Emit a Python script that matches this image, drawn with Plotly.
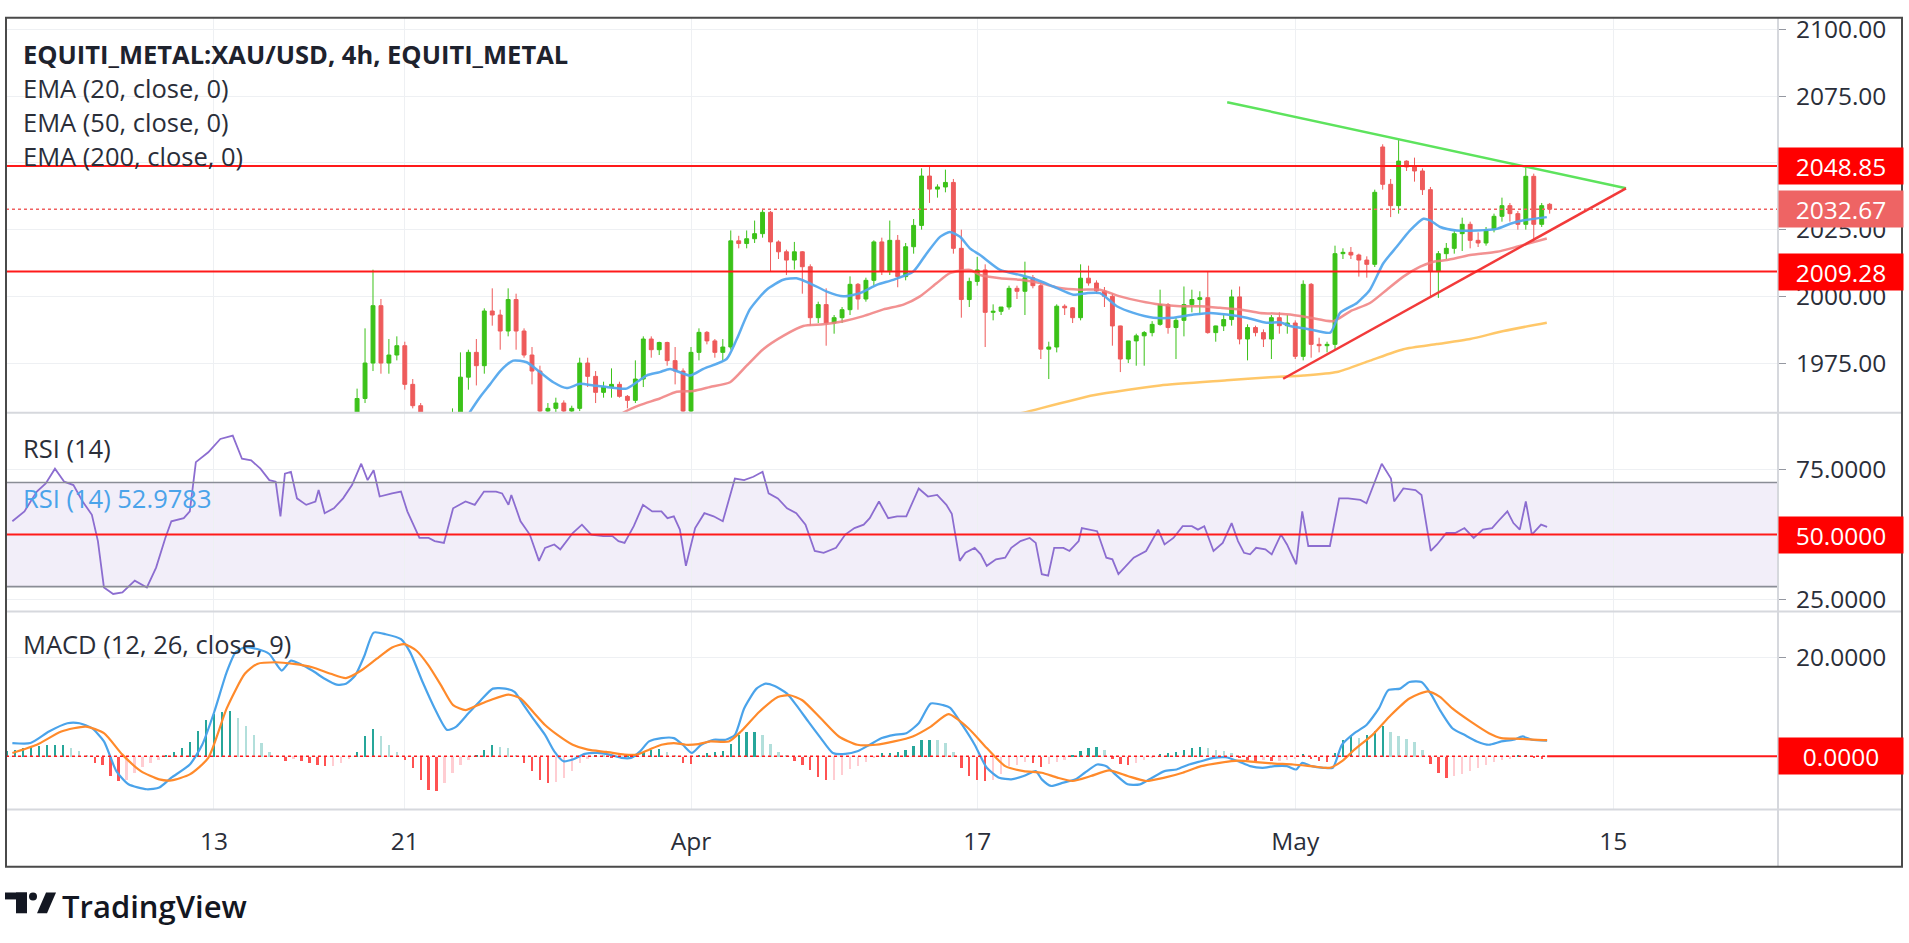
import plotly.graph_objects as go

# ======================= DATA =======================
# x axis = trading-day index (0 = Mar 13); 4h-ish candles sampled every 0.25 day
TICK_DAYS = [0, 6, 15, 24, 34, 44]
TICK_TEXT = ["13", "21", "Apr", "17", "May", "15"]

PRICE_TICKS = [1975, 2000, 2025, 2050, 2075, 2100]
RSI_TICKS = [25, 50, 75]
MACD_TICKS = [0, 20]

RESISTANCE = 2048.85
SUPPORT = 2009.28
LAST_PRICE = 2032.67
RSI_LAST = 52.9783
RSI_MID, RSI_UP, RSI_LO = 50, 70, 30
MACD_ZERO = 0.0

CANDLE_DAY0 = 4.0
CANDLE_STEP = 0.25

OPEN = [
    1948, 1950, 1953, 1961.7,
    1975, 1996.5, 1975, 1978,
    1981.5, 1967, 1959, 1953,
    1948, 1950, 1952, 1956,
    1969.7, 1979, 1974, 1994.5,
    1993, 1987, 1998.8, 1987,
    1978, 1972, 1957, 1958,
    1960, 1957, 1958, 1975,
    1970, 1964, 1966, 1967,
    1962.5, 1961, 1969, 1984,
    1980, 1982.7, 1975.9, 1972,
    1957, 1979, 1986.5, 1983.3,
    1979, 1981, 2020.8, 2019.8,
    2021.6, 2023.5, 2031.5, 2020.4,
    2016.7, 2013.6, 2016.7, 2011.1,
    1992, 1996.9, 1990, 1992,
    1995, 2004.5, 1999, 2006,
    2020.4, 2009.3, 2021, 2007.4,
    2018.6, 2026.6, 2045.1, 2040.2,
    2041, 2042.7, 2018, 1998.8,
    2005.6, 2009.9, 1994, 1994.4,
    1996, 2003, 2001.9, 2007,
    2004, 1980.2, 1981, 1996.3,
    1995.7, 1992, 2006.8, 2005,
    2002, 2000, 1988.9, 1976.5,
    1983.3, 1985.2, 1986.4, 1989.5,
    1996.9, 1988.3, 1991, 1996.9,
    1998.8, 1999.5, 1986.4, 1988.9,
    1991.3, 1999.8, 1984, 1988.3,
    1986.4, 1984, 1992, 1989,
    1990, 1977.5, 2004.5, 1982,
    1981.5, 1982, 2016, 2016.5,
    2015.5, 2013.6, 2012, 2056,
    2042, 2034, 2050.7, 2048.5,
    2047, 2040, 2009.3, 2016,
    2018, 2023.5, 2027, 2021,
    2020, 2025, 2030, 2034,
    2031, 2027, 2045, 2027,
    2034.5,
]
HIGH = [
    1952, 1955, 1965.4, 1988,
    2010, 1999, 1984, 1985,
    1983, 1969, 1960, 1955,
    1952, 1954, 1958, 1979,
    1980, 1984, 1995.5, 2003,
    1995, 2003, 2001, 1988,
    1981, 1974, 1960, 1962,
    1961, 1959, 1977, 1977,
    1972, 1968, 1973, 1968,
    1963, 1976, 1985, 1985,
    1983, 1983, 1981, 1973,
    1981, 1988, 1987, 1984,
    1984, 2024.7, 2022.7, 2024.7,
    2028.4, 2032.8, 2032, 2021,
    2017.5, 2020.4, 2017, 2012,
    1998, 2003, 1993, 1996,
    2007.5, 2005, 2007, 2021,
    2022, 2028.4, 2023, 2020,
    2029, 2048, 2048.9, 2042,
    2047.5, 2044, 2025, 2007,
    2014.8, 2012, 1997, 1996,
    2004, 2004, 2013, 2008,
    2005, 1983, 1997, 1997,
    1996, 2012, 2011.5, 2006,
    2003.5, 2001, 1989, 1983.3,
    1986, 1987, 1990.7, 2002.5,
    1997.5, 1992, 2003.7, 2002.5,
    2001.9, 2009.3, 1989, 1993,
    2002.5, 2003.7, 1989.5, 1989,
    1987.6, 1993, 1994, 1993,
    1991, 2006, 2005, 1984.5,
    1983, 2019, 2018, 2018.5,
    2016, 2015, 2040, 2057,
    2044, 2058.7, 2051, 2052,
    2048, 2041, 2017, 2020,
    2024.5, 2029.5, 2028, 2024,
    2026, 2031, 2037, 2035,
    2032, 2048.85, 2046, 2035,
    2035,
]
LOW = [
    1944, 1946, 1951, 1960,
    1972, 1971, 1971, 1976,
    1965, 1958, 1950, 1945,
    1944, 1946, 1948, 1955,
    1965, 1966.6, 1971, 1989,
    1980, 1985, 1980, 1977,
    1967, 1955, 1952, 1955,
    1955, 1952, 1957, 1966,
    1960, 1962, 1962, 1962,
    1958, 1960, 1966, 1977,
    1978, 1974, 1967, 1955,
    1954, 1976, 1982, 1977,
    1976, 1980, 2018, 2018,
    2020, 2022, 2009.3, 2014,
    2008, 2010, 2001, 1989,
    1990, 1981.5, 1986, 1990,
    1993, 1995, 1998, 2004,
    2008, 2008, 2003.4, 2006,
    2016, 2025, 2035, 2037,
    2039, 2016, 1992, 1996,
    2004, 1981, 1991, 1993,
    1995, 1999, 1993, 2003,
    1976.5, 1969, 1979, 1993,
    1990, 1991, 2004, 2001,
    1996, 1981.5, 1971.6, 1975,
    1974, 1974, 1985, 1989,
    1986, 1976.5, 1985, 1994,
    1993, 1986, 1983, 1987,
    1989, 1982, 1976, 1985,
    1981, 1976.5, 1986, 1986,
    1976.5, 1976, 1977, 1979,
    1979, 1980, 2014, 2014,
    2007.4, 2007, 2011, 2040,
    2029.7, 2031, 2047, 2043,
    2038, 2000, 1999.4, 2014,
    2016, 2017, 2018, 2018.5,
    2019, 2024, 2028, 2028,
    2025, 2025, 2020.4, 2026,
    2031,
]
CLOSE = [
    1950, 1953, 1961.7, 1975,
    1996.5, 1975, 1978, 1981.5,
    1967, 1959, 1953, 1948,
    1950, 1952, 1956, 1969.7,
    1979, 1974, 1994.5, 1993,
    1987, 1998.8, 1987, 1978,
    1972, 1957, 1958, 1960,
    1957, 1958, 1975, 1970,
    1964, 1966, 1967, 1962.5,
    1961, 1969, 1984, 1980,
    1982.7, 1975.9, 1972, 1957,
    1979, 1986.5, 1983.3, 1979,
    1981, 2020.8, 2019.8, 2021.6,
    2023.5, 2031.5, 2020.4, 2016.7,
    2013.6, 2016.7, 2011.1, 1992,
    1996.9, 1990, 1992, 1995,
    2004.5, 1999, 2006, 2020.4,
    2009.3, 2021, 2007.4, 2018.6,
    2026.6, 2045.1, 2040.2, 2041,
    2042.7, 2018, 1998.8, 2005.6,
    2009.9, 1994, 1994.4, 1996,
    2003, 2001.9, 2007, 2004,
    1980.2, 1981, 1996.3, 1995.7,
    1992, 2006.8, 2005, 2002,
    2000, 1988.9, 1976.5, 1983.3,
    1985.2, 1986.4, 1989.5, 1996.9,
    1988.3, 1991, 1996.9, 1998.8,
    1999.5, 1986.4, 1988.9, 1991.3,
    1999.8, 1984, 1988.3, 1986.4,
    1984, 1992, 1989, 1990,
    1977.5, 2004.5, 1982, 1981.5,
    1982, 2016, 2016.5, 2015.5,
    2013.6, 2012, 2039, 2042,
    2034, 2050.7, 2048.5, 2047,
    2040, 2009.3, 2016, 2018,
    2023.5, 2027, 2021, 2020,
    2025, 2030, 2034, 2031,
    2027, 2045, 2027, 2034,
    2032.67,
]

EMA20 = [(7.85, 1953.0), (8.05, 1956.7), (8.35, 1962.0), (8.68, 1967.0), (9.0, 1972.0), (9.41, 1975.9),
         (9.83, 1975.3), (10.25, 1971.6), (10.67, 1967.8), (11.09, 1965.6), (11.51, 1967.2), (11.93, 1966.6),
         (12.35, 1966.0), (12.97, 1965.4), (13.29, 1967.8), (13.6, 1970.3), (14.02, 1971.6), (14.34, 1972.8),
         (14.97, 1970.3), (15.39, 1972.8), (16.12, 1976.5), (16.44, 1984.0), (16.85, 1995.1), (17.38, 2002.5),
         (17.9, 2006.2), (18.32, 2006.8), (18.74, 2004.9), (19.27, 2001.8), (19.79, 2000.0), (20.31, 2001.2),
         (20.84, 2004.3), (21.36, 2006.2), (21.99, 2009.3), (22.41, 2016.1), (22.83, 2022.3), (23.14, 2024.1),
         (23.46, 2022.3), (23.77, 2018.0), (24.09, 2015.5), (24.72, 2009.9), (25.35, 2008.0), (25.87, 2006.2),
         (26.39, 2003.7), (27.02, 2000.6), (27.44, 2001.2), (27.86, 2001.2), (28.39, 1996.3), (28.91, 1993.8),
         (29.54, 1992.0), (30.17, 1992.0), (30.8, 1993.2), (31.32, 1993.8), (31.85, 1993.2), (32.47, 1992.0),
         (33.1, 1990.1), (33.52, 1990.3), (33.84, 1988.9), (34.47, 1987.6), (35.1, 1986.4), (35.41, 1993.8),
         (35.94, 1997.5), (36.35, 2002.5), (36.77, 2012.4), (37.19, 2018.6), (37.61, 2024.7), (38.03, 2029.1),
         (38.24, 2028.5), (38.56, 2026.0), (39.08, 2024.7), (39.71, 2024.7), (40.34, 2025.3), (40.76, 2027.2),
         (41.18, 2028.5), (41.91, 2029.7)]
EMA50 = [(12.7, 1955.0), (12.92, 1956.7), (13.39, 1959.2), (14.02, 1961.7), (14.55, 1964.2), (15.07, 1964.5),
         (15.6, 1966.0), (16.23, 1967.8), (16.75, 1974.0), (17.27, 1980.2), (17.9, 1985.2), (18.53, 1988.9),
         (19.16, 1989.5), (19.79, 1990.7), (20.42, 1992.6), (21.05, 1995.1), (21.68, 1996.9), (22.2, 2000.0),
         (22.72, 2004.9), (23.14, 2008.7), (23.77, 2009.9), (24.09, 2008.0), (24.72, 2006.8), (25.35, 2006.2),
         (25.98, 2005.0), (26.6, 2003.1), (27.23, 2002.5), (27.86, 2002.5), (28.49, 2000.0), (29.12, 1998.2),
         (29.75, 1996.9), (30.38, 1996.3), (31.01, 1996.3), (31.64, 1995.7), (32.26, 1995.1), (32.89, 1993.8),
         (33.52, 1993.5), (33.84, 1993.2), (34.47, 1992.0), (35.2, 1990.7), (35.73, 1994.4), (36.35, 1997.5),
         (36.88, 2002.5), (37.4, 2007.4), (37.93, 2011.1), (38.35, 2013.0), (38.77, 2013.6), (39.5, 2015.5),
         (40.34, 2016.7), (40.97, 2018.6), (41.91, 2021.7)]
EMA200 = [(25.3, 1956.0), (25.56, 1956.7), (27.65, 1962.9), (29.75, 1966.6), (31.85, 1968.5), (33.21, 1969.7),
          (34.26, 1970.3), (35.31, 1971.6), (36.35, 1975.9), (37.4, 1980.2), (38.45, 1982.1), (39.5, 1984.0),
          (40.55, 1987.0), (41.91, 1990.1)]

# hand-drawn trend lines (day, price)
TREND_UPPER = [(31.86, 2072.8), (44.4, 2040.5)]
TREND_LOWER = [(33.62, 1969.1), (44.4, 2040.5)]

RSI = [(-6.34, 55.1), (-5.96, 58.9), (-5.57, 66.5), (-5.29, 69.6), (-5.0, 75.3), (-4.71, 70.3), (-4.42, 69.0),
       (-4.13, 62.7), (-3.84, 57.6), (-3.65, 47.5), (-3.46, 29.7), (-3.17, 27.2), (-2.88, 27.8), (-2.49, 32.3),
       (-2.11, 29.7), (-1.82, 37.3), (-1.53, 48.7), (-1.34, 55.1), (-0.95, 56.3), (-0.76, 58.9), (-0.57, 77.8),
       (-0.18, 81.6), (0.20, 86.7), (0.59, 88.0), (0.88, 79.1), (1.17, 78.5), (1.46, 75.3), (1.74, 70.9),
       (1.94, 70.3), (2.09, 57.0), (2.23, 73.4), (2.42, 74.1), (2.61, 63.9), (2.90, 61.4), (3.19, 62.7),
       (3.29, 67.1), (3.48, 58.2), (3.77, 60.1), (4.06, 63.9), (4.34, 69.0), (4.63, 77.2), (4.83, 70.9),
       (5.02, 74.7), (5.21, 64.6), (5.60, 65.8), (5.88, 66.5), (6.08, 58.9), (6.46, 48.7), (6.75, 48.7),
       (6.94, 47.5), (7.23, 46.8), (7.52, 60.1), (7.91, 62.7), (8.20, 61.4), (8.49, 66.5), (8.87, 66.5),
       (9.06, 65.8), (9.26, 61.4), (9.35, 65.2), (9.64, 55.1), (9.93, 50.0), (10.22, 39.9), (10.41, 44.9),
       (10.70, 46.2), (10.89, 44.3), (11.28, 50.6), (11.57, 53.8), (11.86, 50.0), (12.24, 49.4), (12.53, 49.4),
       (12.72, 47.5), (12.91, 46.8), (13.20, 53.2), (13.49, 61.4), (13.78, 58.9), (14.07, 58.9), (14.26, 56.3),
       (14.46, 57.0), (14.65, 51.9), (14.84, 38.0), (15.13, 52.5), (15.42, 58.2), (15.71, 57.0), (16.0, 55.1),
       (16.38, 71.5), (16.67, 70.9), (16.96, 72.2), (17.25, 74.1), (17.44, 65.8), (17.73, 63.9), (18.02, 60.1),
       (18.31, 58.2), (18.60, 53.8), (18.89, 43.7), (19.17, 43.0), (19.56, 44.9), (19.85, 50.0), (20.14, 52.5),
       (20.43, 53.8), (20.62, 56.3), (20.91, 62.7), (21.20, 56.3), (21.48, 57.0), (21.77, 57.0), (22.16, 67.7),
       (22.45, 64.6), (22.74, 65.2), (23.03, 61.4), (23.2, 58.0), (23.34, 47.5), (23.45, 39.9), (23.63, 43.0),
       (23.92, 44.9), (24.11, 42.4), (24.30, 38.0), (24.59, 40.5), (24.88, 41.1), (25.07, 44.9), (25.36, 47.5),
       (25.65, 48.7), (25.84, 46.8), (26.03, 34.8), (26.23, 34.2), (26.42, 44.9), (26.71, 44.9), (26.90, 43.7),
       (27.19, 47.5), (27.29, 52.5), (27.77, 51.3), (28.06, 41.1), (28.25, 40.5), (28.44, 34.8), (28.73, 38.6),
       (28.92, 41.1), (29.31, 43.7), (29.69, 51.9), (29.89, 46.2), (30.17, 48.7), (30.46, 53.2), (30.75, 53.2),
       (30.94, 51.9), (31.14, 53.2), (31.43, 43.7), (31.72, 46.8), (32.0, 54.4), (32.20, 47.5), (32.39, 43.0),
       (32.58, 42.4), (32.77, 44.9), (33.06, 44.3), (33.26, 42.4), (33.55, 50.0), (33.74, 46.2), (34.03, 38.6),
       (34.22, 58.9), (34.41, 45.6), (34.70, 45.6), (35.09, 45.6), (35.38, 63.9), (35.66, 63.9), (36.05, 63.3),
       (36.24, 62.0), (36.72, 77.2), (37.01, 71.5), (37.11, 62.7), (37.40, 67.7), (37.78, 67.1), (37.97, 65.2),
       (38.26, 43.7), (38.46, 46.2), (38.75, 50.6), (39.03, 50.6), (39.32, 52.5), (39.61, 48.7), (39.90, 51.9),
       (40.19, 52.5), (40.38, 55.1), (40.67, 58.9), (40.86, 54.4), (41.06, 51.9), (41.25, 62.7), (41.44, 50.0),
       (41.73, 53.8), (41.92, 52.98)]

MACD = [(-6.34, 2.67), (-5.77, 2.67), (-5.19, 5.0), (-4.61, 6.67), (-4.23, 6.67), (-3.84, 5.67), (-3.46, 3.0),
        (-3.07, -3.0), (-2.69, -5.67), (-2.11, -6.67), (-1.72, -6.33), (-1.34, -4.33), (-0.76, -1.67),
        (-0.37, 2.33), (0.01, 9.0), (0.40, 17.0), (0.68, 21.0), (0.97, 22.0), (1.36, 21.67), (1.74, 20.67),
        (2.13, 17.33), (2.42, 19.33), (2.71, 18.67), (3.09, 17.33), (3.48, 15.67), (3.86, 14.47), (4.15, 14.67),
        (4.44, 16.33), (4.73, 20.33), (5.02, 25.0), (5.40, 24.67), (5.88, 23.67), (6.17, 21.0), (6.56, 15.0),
        (6.94, 9.67), (7.33, 5.33), (7.62, 6.0), (8.0, 8.67), (8.39, 11.33), (8.77, 13.67), (9.16, 13.67),
        (9.45, 13.0), (9.74, 10.33), (10.03, 7.67), (10.41, 4.33), (10.70, 1.0), (10.99, -1.0), (11.28, -0.67),
        (11.66, 0.47), (12.05, 0.67), (12.43, 0.33), (12.82, -0.33), (13.11, -0.33), (13.40, 1.0), (13.68, 3.0),
        (14.07, 3.67), (14.46, 3.67), (14.74, 2.33), (15.03, 0.67), (15.32, 2.33), (15.71, 3.33), (16.09, 3.33),
        (16.38, 4.33), (16.67, 9.67), (17.06, 13.67), (17.34, 14.67), (17.63, 14.2), (18.02, 12.67),
        (18.31, 10.33), (18.69, 7.0), (19.08, 3.67), (19.46, 0.67), (19.85, 0.47), (20.23, 1.0), (20.62, 2.33),
        (21.0, 3.67), (21.39, 4.33), (21.77, 4.67), (22.16, 6.67), (22.54, 10.67), (22.93, 10.33), (23.15, 9.8),
        (23.53, 6.33), (23.92, 2.33), (24.30, -2.33), (24.69, -4.33), (25.07, -4.67), (25.46, -4.0),
        (25.84, -3.0), (26.03, -4.67), (26.32, -6.0), (26.71, -5.33), (27.09, -4.67), (27.38, -3.33),
        (27.77, -1.67), (28.06, -2.0), (28.34, -3.67), (28.73, -5.67), (29.12, -5.67), (29.50, -4.33),
        (29.89, -3.0), (30.27, -2.67), (30.66, -1.67), (31.04, -1.0), (31.43, -0.33), (31.81, -0.2),
        (32.20, -1.0), (32.58, -2.0), (32.97, -2.33), (33.35, -2.0), (33.74, -2.0), (34.03, -2.67),
        (34.22, -1.33), (34.51, -2.0), (34.89, -2.33), (35.18, -2.33), (35.47, 2.33), (35.86, 4.67),
        (36.24, 6.33), (36.63, 9.67), (36.92, 13.33), (37.30, 13.67), (37.59, 15.0), (37.97, 15.0),
        (38.26, 12.67), (38.55, 9.33), (38.94, 5.67), (39.32, 4.33), (39.71, 3.0), (40.09, 2.33), (40.48, 3.0),
        (40.86, 3.33), (41.15, 4.0), (41.44, 3.33), (41.92, 3.13)]

SIGNAL = [(-6.34, 0.67), (-5.57, 2.33), (-4.80, 5.0), (-4.03, 6.0), (-3.46, 4.67), (-2.88, 0.33), (-2.30, -3.0),
          (-1.72, -4.67), (-1.34, -4.87), (-0.76, -3.67), (-0.18, -0.33), (0.40, 9.67), (0.97, 16.67),
          (1.36, 18.67), (1.94, 19.0), (2.51, 18.67), (3.09, 18.0), (3.67, 16.67), (4.15, 15.8), (4.63, 17.33),
          (5.11, 19.67), (5.60, 22.0), (5.98, 22.67), (6.37, 21.33), (6.75, 18.33), (7.14, 14.33), (7.52, 10.33),
          (7.91, 9.33), (8.29, 10.33), (8.68, 11.33), (9.26, 12.47), (9.64, 11.67), (10.03, 9.0), (10.41, 6.33),
          (10.80, 4.33), (11.28, 2.33), (11.76, 1.33), (12.34, 0.87), (12.91, 0.33), (13.30, 0.33), (13.68, 1.33),
          (14.07, 2.33), (14.46, 2.67), (14.84, 2.33), (15.23, 2.47), (15.61, 3.0), (16.19, 3.0), (16.57, 5.0),
          (17.15, 9.0), (17.73, 12.0), (18.11, 12.33), (18.50, 11.33), (19.08, 7.67), (19.65, 4.0), (20.23, 2.33),
          (20.81, 2.33), (21.39, 3.0), (21.97, 4.0), (22.54, 6.0), (23.1, 8.5), (23.72, 5.67), (24.30, 1.67),
          (24.88, -2.0), (25.46, -3.0), (26.03, -3.33), (26.52, -4.33), (27.0, -5.0), (27.57, -4.0),
          (28.15, -2.87), (28.73, -4.0), (29.31, -5.0), (29.89, -4.33), (30.46, -3.33), (31.04, -2.0),
          (31.62, -1.33), (32.20, -0.87), (32.77, -1.2), (33.35, -1.47), (33.93, -1.67), (34.51, -2.0),
          (35.09, -2.33), (35.47, -1.0), (35.86, 1.33), (36.43, 4.33), (37.01, 8.33), (37.59, 11.67),
          (38.17, 13.13), (38.55, 12.0), (38.94, 9.67), (39.52, 7.0), (40.09, 4.67), (40.48, 3.67),
          (41.06, 3.53), (41.63, 3.33), (41.92, 3.27)]

HIST_DAY0 = -6.5
HIST_STEP = 0.25
HIST = [
    1.2, 1.4,
    1.7, 2.0, 2.2, 2.3,
    2.3, 2.3, 1.8, 1.2,
    0.3, -1.2, -1.6, -3.9,
    -5.0, -4.8, -3.2, -2.1,
    -1.3, -0.6, 0.2, 0.9,
    1.8, 3.0, 5.3, 7.5,
    8.6, 9.1, 9.3, 7.9,
    6.2, 4.4, 2.7, 1.0,
    0.1, -0.8, -0.4, -0.8,
    -1.2, -1.6, -1.9, -1.8,
    -1.2, -0.5, 1.0, 4.2,
    5.6, 4.1, 2.3, 0.9,
    -0.6, -2.2, -4.6, -6.7,
    -7.0, -5.3, -3.2, -1.6,
    -0.7, 0.3, 1.4, 2.3,
    2.0, 1.7, 0.3, -1.3,
    -2.8, -4.8, -5.3, -5.2,
    -4.2, -2.8, -1.3, -0.4,
    0.3, 0.2, -0.3, -0.3,
    0.2, 0.5, 1.0, 1.4,
    1.5, 1.0, 0.4, -1.2,
    -1.4, 0.3, 0.7, 1.0,
    1.2, 2.6, 4.4, 5.0,
    5.0, 4.3, 2.5, 1.0,
    0.2, -0.8, -1.6, -2.6,
    -4.0, -4.8, -4.6, -3.6,
    -2.5, -1.8, -1.1, -0.3,
    0.7, 0.8, 1.0, 1.3,
    2.2, 3.3, 3.4, 3.3,
    2.7, 1.0, -2.3, -3.8,
    -4.6, -5.0, -4.6, -3.5,
    -1.9, -1.7, -1.0, -1.3,
    -2.0, -1.5, -1.0, -0.7,
    0.3, 1.1, 1.7, 2.0,
    1.3, -0.4, -1.4, -1.7,
    -1.3, -0.6, -0.3, 0.6,
    0.8, 1.0, 1.4, 1.7,
    2.0, 1.7, 1.3, 1.1,
    0.7, -0.3, -0.6, -0.8,
    -0.7, -0.9, -0.8, -0.6,
    -0.5, 0.6, -0.5, -0.8,
    -1.0, 0.8, 3.4, 4.3,
    3.7, 4.4, 5.3, 6.2,
    5.1, 4.2, 3.6, 3.0,
    1.4, -1.5, -3.3, -4.3,
    -3.9, -3.4, -2.9, -2.2,
    -1.6, -1.1, -0.6, -0.4,
    0.2, 0.4, -0.3, -0.4,
]

# ======================= LAYOUT (pixels) =======================
W, H = 1909, 943
LEFT, PLOT_R, RIGHT = 6, 1778, 1902
TOP, SEP1, SEP2, SEP3, BOTTOM = 12, 411, 612, 812, 870
X_RANGE = [-6.54, 49.18]
PRICE_RANGE = [1956.4, 2104.4]
RSI_RANGE = [20.46, 96.8]
MACD_RANGE = [-10.74, 29.26]


def fx(p):
    return p / W


def fy(p):
    return 1 - p / H


FONT = "Open Sans"
TXT = "#2a2e39"
GRID = "#eef0f3"
SEPC = "#d6d8dd"
UP = "#3cc21a"
DOWN = "#ee5b5b"
AXFS = 24.5
LEGFS = 25.5

fig = go.Figure()

cx = [CANDLE_DAY0 + CANDLE_STEP * i for i in range(len(CLOSE))]
fig.add_trace(go.Candlestick(
    x=cx, open=OPEN, high=HIGH, low=LOW, close=CLOSE,
    increasing=dict(line=dict(color=UP, width=1), fillcolor=UP),
    decreasing=dict(line=dict(color=DOWN, width=1), fillcolor=DOWN),
    whiskerwidth=0, xaxis="x", yaxis="y", showlegend=False, hoverinfo="skip"))


def line(points, color, width, xa, ya, opacity=1.0):
    fig.add_trace(go.Scatter(x=[p[0] for p in points], y=[p[1] for p in points], mode="lines",
                             line=dict(color=color, width=width, shape="spline", smoothing=0.6),
                             opacity=opacity, xaxis=xa, yaxis=ya, showlegend=False, hoverinfo="skip"))


line(EMA200, "#ffc35a", 2.5, "x", "y", 0.9)
line(EMA50, "#f07f7f", 2.5, "x", "y", 0.85)
line(EMA20, "#55a8ee", 2.5, "x", "y", 0.95)
fig.add_trace(go.Scatter(x=[p[0] for p in TREND_UPPER], y=[p[1] for p in TREND_UPPER], mode="lines",
                         line=dict(color="#5de35d", width=2.5), xaxis="x", yaxis="y",
                         showlegend=False, hoverinfo="skip"))
fig.add_trace(go.Scatter(x=[p[0] for p in TREND_LOWER], y=[p[1] for p in TREND_LOWER], mode="lines",
                         line=dict(color="#f23a3a", width=2.5), xaxis="x", yaxis="y",
                         showlegend=False, hoverinfo="skip"))

# RSI
fig.add_trace(go.Scatter(x=[p[0] for p in RSI], y=[p[1] for p in RSI], mode="lines",
                         line=dict(color="#8c6dd0", width=1.8), xaxis="x2", yaxis="y2",
                         showlegend=False, hoverinfo="skip"))

# MACD histogram
hx = [HIST_DAY0 + HIST_STEP * i for i in range(len(HIST))]
hcol = []
for i, v in enumerate(HIST):
    prev = HIST[i - 1] if i else v
    if v >= 0:
        hcol.append("#26a69a" if v >= prev else "#b2dfdb")
    else:
        hcol.append("#ff5252" if v < prev else "#ffcdd2")
fig.add_trace(go.Bar(x=hx, y=HIST, width=0.075, marker=dict(color=hcol, line=dict(width=0)),
                     xaxis="x3", yaxis="y3", showlegend=False, hoverinfo="skip"))
line(MACD, "#4aa3ea", 2.2, "x3", "y3")
line(SIGNAL, "#ff8a2b", 2.2, "x3", "y3")


def tick_labels(vals, fmt, hidden):
    return [("" if v in hidden else format(v, fmt)) for v in vals]


# ---------------- axes ----------------
xcommon = dict(range=X_RANGE, domain=[fx(LEFT), fx(PLOT_R)], showgrid=True, gridcolor=GRID, gridwidth=1,
               tickvals=TICK_DAYS, ticktext=TICK_TEXT, zeroline=False, showline=False, fixedrange=True)
ycommon = dict(side="right", showgrid=True, gridcolor=GRID, gridwidth=1, zeroline=False, showline=False,
               ticks="outside", ticklen=7, tickcolor="#9598a1", tickwidth=1,
               tickfont=dict(family=FONT, size=AXFS, color=TXT), ticklabelstandoff=5, fixedrange=True)

fig.update_layout(
    width=W, height=H, margin=dict(l=0, r=0, t=0, b=0),
    paper_bgcolor="white", plot_bgcolor="white", bargap=0, showlegend=False,
    xaxis=dict(**xcommon, anchor="y", showticklabels=False, rangeslider=dict(visible=False)),
    xaxis2=dict(**xcommon, anchor="y2", showticklabels=False),
    xaxis3=dict(**xcommon, anchor="y3", showticklabels=True, ticks="",
                tickfont=dict(family=FONT, size=AXFS, color=TXT), ticklabelstandoff=15),
    yaxis=dict(**ycommon, anchor="x", domain=[fy(SEP1), fy(TOP)], range=PRICE_RANGE,
               tickvals=PRICE_TICKS, ticktext=tick_labels(PRICE_TICKS, ".2f", {2050})),
    yaxis2=dict(**ycommon, anchor="x2", domain=[fy(SEP2), fy(SEP1)], range=RSI_RANGE,
                tickvals=RSI_TICKS, ticktext=tick_labels(RSI_TICKS, ".4f", {RSI_MID})),
    yaxis3=dict(**ycommon, anchor="x3", domain=[fy(SEP3), fy(SEP2)], range=MACD_RANGE,
                tickvals=MACD_TICKS, ticktext=tick_labels(MACD_TICKS, ".4f", {MACD_ZERO})),
)

shapes = []
# RSI band
shapes.append(dict(type="rect", xref="paper", yref="y2", x0=fx(LEFT), x1=fx(PLOT_R), y0=RSI_LO, y1=RSI_UP,
                   fillcolor="rgba(126,87,194,0.10)", line=dict(width=0), layer="below"))
for lv in (RSI_UP, RSI_LO):
    shapes.append(dict(type="line", xref="paper", yref="y2", x0=fx(LEFT), x1=fx(PLOT_R), y0=lv, y1=lv,
                       line=dict(color="#8a8d96", width=1.6)))
shapes.append(dict(type="line", xref="paper", yref="y2", x0=fx(LEFT), x1=fx(PLOT_R), y0=RSI_MID, y1=RSI_MID,
                   line=dict(color="#ff1a1a", width=2)))
# price levels
for lv in (RESISTANCE, SUPPORT):
    shapes.append(dict(type="line", xref="paper", yref="y", x0=fx(LEFT), x1=fx(PLOT_R), y0=lv, y1=lv,
                       line=dict(color="#ff1a1a", width=2)))
shapes.append(dict(type="line", xref="paper", yref="y", x0=fx(LEFT), x1=fx(PLOT_R), y0=LAST_PRICE,
                   y1=LAST_PRICE, line=dict(color="#f06060", width=1.6, dash="dot")))
# MACD zero line: dotted under data, solid beyond
last_day = MACD[-1][0]
shapes.append(dict(type="line", xref="x3", yref="y3", x0=X_RANGE[0], x1=last_day, y0=MACD_ZERO, y1=MACD_ZERO,
                   line=dict(color="#ff1a1a", width=1.6, dash="dot")))
shapes.append(dict(type="line", xref="x3", yref="y3", x0=last_day, x1=X_RANGE[1], y0=MACD_ZERO, y1=MACD_ZERO,
                   line=dict(color="#ff1a1a", width=2)))
# pane separators and frame
for yy in (SEP1, SEP2, SEP3):
    shapes.append(dict(type="line", xref="paper", yref="paper", x0=fx(LEFT), x1=fx(RIGHT), y0=fy(yy), y1=fy(yy),
                       line=dict(color=SEPC, width=2)))
shapes.append(dict(type="line", xref="paper", yref="paper", x0=fx(PLOT_R), x1=fx(PLOT_R), y0=fy(BOTTOM),
                   y1=fy(TOP), line=dict(color=SEPC, width=2)))
shapes.append(dict(type="rect", xref="paper", yref="paper", x0=fx(LEFT), x1=fx(RIGHT), y0=fy(BOTTOM), y1=fy(TOP),
                   line=dict(color="#4a4a4a", width=2), fillcolor="rgba(0,0,0,0)"))
# TradingView logo glyph
LOGO = "#131722"
shapes.append(dict(type="rect", xref="paper", yref="paper", x0=fx(5), x1=fx(27), y0=fy(903), y1=fy(896),
                   fillcolor=LOGO, line=dict(width=0)))
shapes.append(dict(type="rect", xref="paper", yref="paper", x0=fx(16), x1=fx(27), y0=fy(917), y1=fy(896),
                   fillcolor=LOGO, line=dict(width=0)))
shapes.append(dict(type="circle", xref="paper", yref="paper", x0=fx(29), x1=fx(37), y0=fy(904), y1=fy(896),
                   fillcolor=LOGO, line=dict(width=0)))
shapes.append(dict(type="path", xref="paper", yref="paper",
                   path=f"M {fx(37)},{fy(917)} L {fx(46)},{fy(896)} L {fx(56)},{fy(896)} L {fx(47)},{fy(917)} Z",
                   fillcolor=LOGO, line=dict(width=0)))
fig.update_layout(shapes=shapes)

ann = []


def text(x, y, s, size=LEGFS, color=TXT, weight="normal"):
    ann.append(dict(xref="paper", yref="paper", x=fx(x), y=fy(y), xanchor="left", yanchor="middle",
                    text=s, showarrow=False, font=dict(family=FONT, size=size, color=color, weight=weight)))


text(21, 49, "EQUITI_METAL:XAU/USD, 4h, EQUITI_METAL", LEGFS, "#1e222d", "bold")
text(21, 83, "EMA (20, close, 0)")
text(21, 117, "EMA (50, close, 0)")
text(21, 152, "EMA (200, close, 0)")
text(21, 447, "RSI (14)")
text(21, 497, f"RSI (14) {RSI_LAST:.4f}", LEGFS, "#4aa3ea")
text(21, 645, "MACD (12, 26, close, 9)")
text(60, 910, "TradingView", 31, "#131722", 600)


def box(val, yref, label, bg):
    ann.append(dict(xref="paper", yref=yref, x=fx(PLOT_R), y=val, xanchor="left", yanchor="middle",
                    text=label, showarrow=False, width=120, height=32, borderpad=2, bgcolor=bg,
                    align="center", font=dict(family=FONT, size=AXFS, color="white")))


box(RESISTANCE, "y", f"{RESISTANCE:.2f}", "#ff0000")
box(LAST_PRICE, "y", f"{LAST_PRICE:.2f}", "#ee6464")
box(SUPPORT, "y", f"{SUPPORT:.2f}", "#ff0000")
box(RSI_MID, "y2", f"{RSI_MID:.4f}", "#ff0000")
box(MACD_ZERO, "y3", f"{MACD_ZERO:.4f}", "#ff0000")
fig.update_layout(annotations=ann)

fig.write_html("out.html", include_plotlyjs=True, config={"displayModeBar": False},
               post_script="document.body.style.margin='0';document.body.style.overflow='hidden';")
